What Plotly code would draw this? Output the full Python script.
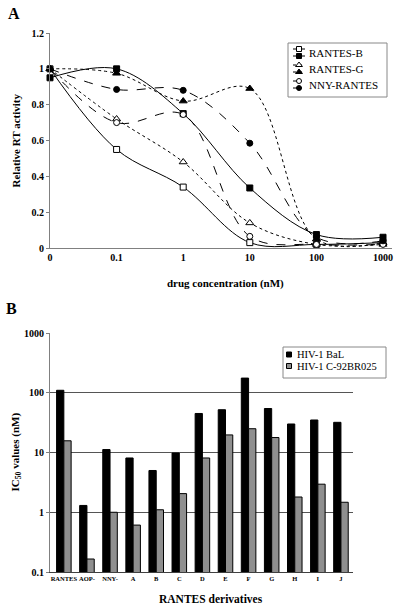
import plotly.graph_objects as go

W, H = 400, 609
def px(x): return x / W
def py(y): return 1 - y / H

SERIF = "Liberation Serif"

# ---------------- Panel A data ----------------
conc_labels = ["0", "0.1", "1", "10", "100", "1000"]
rantes_b_open = [1.00, 0.55, 0.34, 0.03, 0.02, 0.03]
rantes_b_filled = [0.95, 1.00, 0.75, 0.335, 0.075, 0.06]
rantes_g_open = [1.00, 0.72, 0.48, 0.14, 0.02, 0.02]
rantes_g_filled = [1.00, 0.975, 0.82, 0.89, 0.05, 0.03]
nny_open = [1.00, 0.70, 0.745, 0.065, 0.02, 0.02]
nny_filled = [1.00, 0.885, 0.88, 0.585, 0.06, 0.04]
legend_a_names = ["RANTES-B", "RANTES-G", "NNY-RANTES"]

# ---------------- Panel B data ----------------
derivatives = ["RANTES", "AOP-", "NNY-", "A", "B", "C", "D", "E", "F", "G", "H", "I", "J"]
bal = [110, 1.3, 11.2, 8.1, 5.0, 9.8, 45, 52, 176, 54.5, 30, 35, 32]
c92 = [15.7, 0.165, 1.0, 0.61, 1.1, 2.05, 8.1, 19.7, 25, 17.8, 1.8, 2.95, 1.47]
legend_b_names = ["HIV-1 BaL", "HIV-1 C-92BR025"]

fig = go.Figure()

# (values, symbol, open?, dash, size)
series = [
    (rantes_b_open, "square", True, "solid", 6),
    (rantes_b_filled, "square", False, "solid", 6),
    (rantes_g_open, "triangle-up", True, "dot", 7),
    (rantes_g_filled, "triangle-up", False, "dot", 7),
    (nny_open, "circle", True, "dash", 6),
    (nny_filled, "circle", False, "dash", 6),
]
for vals, sym, is_open, dash, sz in series:
    fig.add_trace(go.Scatter(
        x=conc_labels, y=vals, mode="lines+markers",
        line=dict(color="black", width=1, dash=dash, shape="spline", smoothing=1),
        marker=dict(symbol=sym, size=sz, color="white" if is_open else "black",
                    line=dict(color="black", width=1)),
        cliponaxis=False, showlegend=False, xaxis="x", yaxis="y"))

fig.add_trace(go.Bar(x=derivatives, y=bal, marker=dict(color="black", line=dict(color="black", width=1)),
                     showlegend=False, xaxis="x2", yaxis="y2"))
fig.add_trace(go.Bar(x=derivatives, y=c92, marker=dict(color="#8f8f8f", line=dict(color="black", width=1)),
                     showlegend=False, xaxis="x2", yaxis="y2"))

# ---------- manual legend icons (overlay pixel axis) ----------
leg_a_y = [53, 69, 85]
pairs = [(series[0], series[1]), (series[2], series[3]), (series[4], series[5])]
for yc, (op, fl) in zip(leg_a_y, pairs):
    for s, dy in ((op, -4), (fl, 3)):
        _, sym, is_open, dash, sz = s
        fig.add_trace(go.Scatter(
            x=[293, 299, 305], y=[yc + dy] * 3, mode="lines",
            line=dict(color="black", width=1, dash=dash),
            showlegend=False, hoverinfo="skip", xaxis="x3", yaxis="y3"))
        fig.add_trace(go.Scatter(
            x=[299], y=[yc + dy], mode="markers",
            marker=dict(symbol=sym, size=sz - 1, color="white" if is_open else "black",
                        line=dict(color="black", width=1)),
            showlegend=False, hoverinfo="skip", xaxis="x3", yaxis="y3"))

leg_b_y = [354.5, 366]
for yc, col in zip(leg_b_y, ["black", "#8f8f8f"]):
    fig.add_trace(go.Scatter(
        x=[289], y=[yc], mode="markers",
        marker=dict(symbol="square", size=5, color=col, line=dict(color="black", width=1)),
        showlegend=False, hoverinfo="skip", xaxis="x3", yaxis="y3"))

tickfont = dict(family=SERIF, size=10, color="black")
fig.update_layout(
    width=W, height=609, autosize=False,
    margin=dict(l=0, r=0, t=0, b=0),
    paper_bgcolor="white", plot_bgcolor="rgba(0,0,0,0)",
    barmode="group", bargap=0.37, bargroupgap=0,
    xaxis=dict(domain=[px(50), px(392)], anchor="y", type="category", range=[0, 5.135],
               showline=True, linecolor="#808080", linewidth=1, showgrid=False, ticks="",
               tickfont=tickfont, tickprefix="<b>", ticksuffix="</b>", zeroline=False,
               automargin=False),
    yaxis=dict(domain=[py(248), py(33)], anchor="x", range=[0, 1.2], dtick=0.2,
               showline=True, linecolor="#808080", linewidth=1, showgrid=False,
               ticks="outside", ticklen=3, tickcolor="#808080",
               tickfont=tickfont, tickprefix="<b>", ticksuffix="</b>", zeroline=False,
               automargin=False),
    xaxis2=dict(domain=[px(50), px(352.5)], anchor="y2", type="category", range=[-0.6, 12.5],
                showline=True, linecolor="#404040", linewidth=1, showgrid=False, ticks="",
                tickfont=dict(family=SERIF, size=6.5, color="black"),
                tickprefix="<b>", ticksuffix="</b>", tickangle=0, automargin=False),
    yaxis2=dict(domain=[py(572), py(333)], anchor="x2", type="log", range=[-1, 3],
                tickvals=[0.1, 1, 10, 100, 1000], ticktext=["<b>0.1</b>", "<b>1</b>", "<b>10</b>", "<b>100</b>", "<b>1000</b>"],
                showline=True, linecolor="#808080", linewidth=1,
                showgrid=True, gridcolor="#555555", gridwidth=1,
                ticks="outside", ticklen=3, tickcolor="#808080",
                tickfont=dict(family=SERIF, size=10, color="black"), zeroline=False,
                automargin=False),
    xaxis3=dict(domain=[0, 1], anchor="y3", range=[0, W], visible=False, fixedrange=True, automargin=False),
    yaxis3=dict(domain=[0, 1], anchor="x3", range=[H, 0], visible=False, fixedrange=True, automargin=False),
)

ann = []
def txt(x, y, s, size, bold=True, xanchor="center", angle=0):
    ann.append(dict(x=px(x), y=py(y), xref="paper", yref="paper", text=("<b>%s</b>" % s) if bold else s,
                    showarrow=False, xanchor=xanchor, yanchor="middle", textangle=angle,
                    font=dict(family=SERIF, size=size, color="black")))

txt(14, 14, "A", 16)
txt(11, 308, "B", 16)
txt(15, 140.5, "Relative RT activity", 11, angle=-90)
txt(226, 283, "drug concentration (nM)", 11)
txt(15, 452.5, "IC<sub>50</sub> values (nM)", 11, angle=-90)
txt(211, 599, "RANTES derivatives", 11.5)
for yc, name in zip(leg_a_y, legend_a_names):
    txt(307, yc, name, 11, bold=False, xanchor="left")
for yc, name in zip(leg_b_y, legend_b_names):
    txt(295, yc, name, 10.5, bold=False, xanchor="left")

shapes = [
    dict(type="rect", xref="paper", yref="paper", x0=px(288), x1=px(387), y0=py(97), y1=py(43),
         line=dict(color="#888888", width=1), fillcolor="rgba(0,0,0,0)"),
    dict(type="rect", xref="paper", yref="paper", x0=px(283), x1=px(386), y0=py(378), y1=py(347),
         line=dict(color="#888888", width=1), fillcolor="rgba(0,0,0,0)"),
]
fig.update_layout(annotations=ann, shapes=shapes)

fig.write_html("out.html", config={"displayModeBar": False},
               post_script="document.body.style.margin='0';document.body.style.padding='0';"
                           "document.body.style.overflow='hidden';")
